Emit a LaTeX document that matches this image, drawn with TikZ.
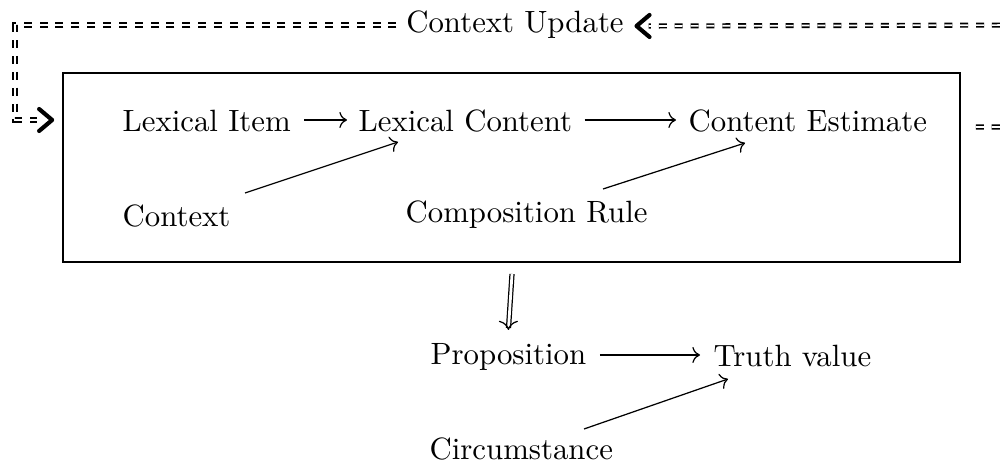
\documentclass[tikz,border=0pt]{standalone}
\usetikzlibrary{calc,arrows.meta}
\begin{document}
\begin{tikzpicture}[x=0.32468pt,y=-0.32468pt,
  lbl/.style={inner sep=0pt, anchor=base west},
  arr/.style={->},
  loopline/.style={double, dash pattern=on 2.6pt off 2.55pt, line width=0.55pt, double distance=0.55pt},
  chev/.style={line width=1.35pt, line cap=round, line join=round},
  thintip/.style={-{To[length=3pt,width=6.2pt]}}]
\useasboundingbox (0,0) rectangle (1005,466);
\node[draw, line width=0.6pt, minimum width=291.2pt, minimum height=61.4pt, inner sep=0pt] (box) at (511.5,167.5) {};
\node[lbl] (li) at (122,132) {Lexical Item};
\node[lbl] (lc) at (358,132) {Lexical Content};
\node[lbl] (ce) at (688,132) {Content Estimate};
\node[lbl] (ctx) at (122,227) {Context};
\node[lbl] (cr) at (405,223) {Composition Rule};
\node[lbl] (prop) at (430,365) {Proposition};
\node[lbl] (tv) at (713,367) {Truth value};
\node[lbl] (circ) at (429,460) {Circumstance};
\node[inner sep=3pt, fill=white] (lab) at (515,25) {Context Update};
% arrows
\draw[arr] ($(li.base east)+(13,-12)$) -- ($(lc.base west)+(-11,-12)$);
\draw[arr] ($(lc.base east)+(12,-12)$) -- ($(ce.base west)+(-12,-12)$);
\draw[arr] ($(ctx.base east)+(14,-34)$) -- ($(lc.base west)+(40,10)$);
\draw[arr] ($(cr.base west)+(198,-34)$) -- ($(ce.base west)+(57,11)$);
\draw[arr] ($(prop.base east)+(13,-10)$) -- ($(tv.base west)+(-13,-12)$);
\draw[arr] ($(circ.base west)+(155,-31)$) -- ($(tv.base west)+(15,12)$);
% double down arrow
\coordinate (dtip) at ($(prop.base)+(0,-35)$);
\draw[double, line width=0.4pt, double distance=0.9pt] ($(box.south)+(0.5,11)$) -- ($(dtip)+(0.1,-2)$);
\draw[thintip] ($(dtip)+(0,-0.5)$) -- (dtip);
% loop
\coordinate (br) at (1040,127);
\coordinate (tr) at (1040,25);
\coordinate (tl) at (15,25);
\coordinate (bl) at (15,120);
\coordinate (inpt) at ($(box.west)+(-10,-47.5)$);
\coordinate (toptip) at ($(lab.east)+(3,1)$);
\draw[loopline] ($(box.east)+(15,-40.5)$) -- (br) -- (tr) -- ($(toptip)+(12,0)$);
\draw[chev] ($(toptip)+(13,-11)$) -- (toptip) -- ($(toptip)+(13,11)$);
\draw[loopline] (lab.west) -- (tl) -- (bl) -- ($(inpt)+(-15,0)$);
\draw[chev] ($(inpt)+(-13,-11)$) -- (inpt) -- ($(inpt)+(-13,11)$);
\end{tikzpicture}
\end{document}
